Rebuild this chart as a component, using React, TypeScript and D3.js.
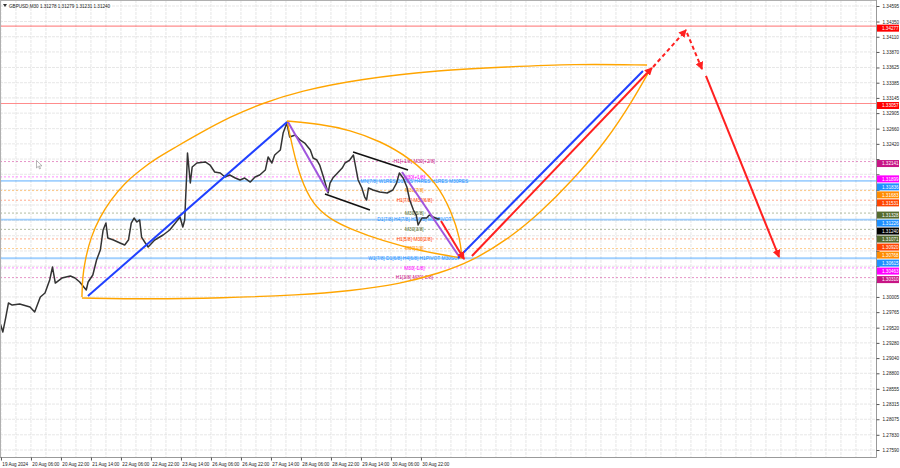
import { useEffect, useRef } from "react";
import * as d3 from "d3";

const W = 900;
const H = 468;
const PLOT_R = 876;
const PLOT_B = 457;

const chartTitle = "GBPUSD,M30  1.31278 1.31279 1.31231 1.31240";

// time axis in trading hours from the left edge (weekend is skipped, as MT4 does)
const timeTickLabels = [
  "19 Aug 2024", "20 Aug 06:00", "20 Aug 22:00", "21 Aug 14:00", "22 Aug 06:00",
  "22 Aug 22:00", "23 Aug 14:00", "26 Aug 06:00", "26 Aug 22:00", "27 Aug 14:00",
  "28 Aug 06:00", "28 Aug 22:00", "29 Aug 14:00", "30 Aug 06:00", "30 Aug 22:00"
];
const timeTickHours = [0.5, 16.5, 32.5, 48.5, 64.5, 80.5, 96.5, 112.5, 128.5, 144.5, 160.5, 176.5, 192.5, 208.5, 224.5];

const priceTicks = [
  1.34595, 1.34350, 1.34110, 1.33870, 1.33625, 1.33385, 1.33145, 1.32905, 1.32660, 1.32420,
  1.32180, 1.31940, 1.31695, 1.31455, 1.31215, 1.30970, 1.30730, 1.30490, 1.30245, 1.30005,
  1.29765, 1.29520, 1.29280, 1.29040, 1.28800, 1.28555, 1.28315, 1.28075, 1.27830, 1.27590
];

// GBPUSD M30 price path
const barHours = [
  0, 1.5, 3, 4.5, 6.5, 10.5, 16, 18.5, 21.5, 24, 26.5, 28, 29.5, 33, 37.5, 40, 42.5, 46, 47, 49.5,
  51.5, 53.5, 55, 56.5, 57.5, 60.5, 64, 66.5, 68.5, 70, 71.5, 73, 74.5, 75.5, 77.5, 79, 82.5, 87, 90.5, 93.5,
  96, 97.5, 98.5, 99.5, 100, 101.5, 102.5, 105, 109.5, 112, 114.5, 117.5, 120, 122.5, 125.5, 128, 130.5, 133.5, 136, 138.5,
  141.5, 143, 145, 146.5, 149.5, 151, 153, 154.5, 157.5, 160, 162.5, 165.5, 167, 169, 170.5, 172.5, 174.5, 175, 176, 177.5,
  180.5, 182.5, 184, 186.5, 188.5, 190, 191, 193, 194.5, 195.5, 196.5, 199, 202.5, 206.5, 209.5, 211.5, 213, 215, 217, 218.5,
  220.5, 222, 223, 225, 227.5, 229, 231, 233.5, 234.5
];
const barPrices = [
  1.29600, 1.29451, 1.29672, 1.29909, 1.29877, 1.29893, 1.29846, 1.29767, 1.30004, 1.30067, 1.30272, 1.30477, 1.30224, 1.30303, 1.30335, 1.30303, 1.30240, 1.30114, 1.30240, 1.30351,
  1.30587, 1.30745, 1.31061, 1.31171, 1.30935, 1.30903, 1.30856, 1.30824, 1.30903, 1.31171, 1.31250, 1.31187, 1.31219, 1.30950, 1.30856, 1.30792, 1.30903, 1.30982, 1.31061, 1.31171,
  1.31266, 1.31108, 1.31219, 1.31897, 1.32276, 1.31802, 1.32055, 1.32118, 1.32134, 1.32086, 1.31976, 1.31960, 1.31897, 1.31929, 1.31881, 1.31850, 1.31881, 1.31818, 1.31897, 1.31929,
  1.32007, 1.32213, 1.32118, 1.32244, 1.32323, 1.32591, 1.32749, 1.32528, 1.32560, 1.32481, 1.32433, 1.32323, 1.32197, 1.32165, 1.32086, 1.31897, 1.31692, 1.31645, 1.31802, 1.31881,
  1.31976, 1.32039, 1.32118, 1.32165, 1.32244, 1.32007, 1.31850, 1.31723, 1.31581, 1.31534, 1.31723, 1.31692, 1.31660, 1.31645, 1.31692, 1.31802, 1.31960, 1.31881, 1.31739, 1.31534,
  1.31376, 1.31297, 1.31140, 1.31250, 1.31250, 1.31297, 1.31266, 1.31234, 1.31240
];
const lastPrice = 1.31240;

// horizontal levels (Murrey math lines + two red levels)
const levelPrices = [1.34277, 1.33057, 1.32141, 1.31899, 1.31836, 1.31683, 1.31531, 1.31328, 1.31226, 1.31071, 1.30920, 1.30768, 1.30615, 1.30463, 1.30310];
const levelColors = ["#ff0000", "#ff0000", "#c71585", "#ff00ff", "#1e90ff", "#ff8c00", "#ff4500", "#556b2f", "#1e90ff", "#556b2f", "#ff4500", "#ff8c00", "#1e90ff", "#ff00ff", "#c71585"];
const levelKinds = ["red", "red", "dot", "dot", "band", "dot", "dot", "dot", "band", "dot", "dot", "dot", "band", "dot", "dot"];
const levelTexts = [
  "", "",
  "H1[+1/8] M30[+2/8]", "M30[+1/8]", "MN[7/8] W1RES D1RES H4RES H1RES M30RES", "M30[7/8]",
  "H1[7/8] M30[6/8]", "M30[5/8]", "D1[7/8] H4[7/8] H1[6/8] M30PIVOT", "M30[3/8]",
  "H1[5/8] M30[2/8]", "M30[1/8]", "W1[7/8] D1[6/8] H4[6/8] H1PIVOT M30SUP", "M30[-1/8]", "H1[3/8] M30[-2/8]"
];
const levelTextHour = 221;

// drawn objects: [hour, price] points
const blueLines = [
  [[46.9, 1.30019], [153.1, 1.32765]],
  [[244.3, 1.30619], [342.9, 1.33569]]
];
const purpleLines = [
  [[153.6, 1.32765], [174.9, 1.31660]],
  [[214.4, 1.31976], [244.3, 1.30666]]
];
const blackLines = [
  [[188.3, 1.32291], [217.6, 1.32007]],
  [[173.3, 1.31629], [197.3, 1.31376]]
];
const redArrows = [
  [[235.2, 1.31203], [247.5, 1.30603]],
  [[251.7, 1.30650], [347.7, 1.33617]],
  [[376.5, 1.33491], [415.5, 1.30635]]
];
const redDashedArrows = [
  [[348.3, 1.33633], [365.9, 1.34216]],
  [[366.4, 1.34169], [374.4, 1.33601]]
];
const orangeArcs = [
  [[43.7, 1.30004], [44.0, 1.30319], [45.6, 1.30619], [48.5, 1.30950], [53.0, 1.31250], [59.0, 1.31534], [66.5, 1.31802],
   [74.7, 1.32007], [83.7, 1.32197], [92.3, 1.32344], [106.7, 1.32591], [122.7, 1.32844], [138.7, 1.33049], [160, 1.33254],
   [192, 1.33443], [234.7, 1.33585], [270.4, 1.33633], [305.6, 1.33680], [345.1, 1.33664]],
  [[43.7, 1.29988], [80, 1.29972], [117.3, 1.29988], [160, 1.30035], [186.7, 1.30098], [213.3, 1.30209], [234.7, 1.30382],
   [250.7, 1.30556], [270.4, 1.30903], [288, 1.31329], [305.6, 1.31850], [323.7, 1.32481], [337.6, 1.33112], [347.2, 1.33617]],
  [[153.1, 1.32781], [170.7, 1.32733], [186.7, 1.32639], [202.7, 1.32465], [218.7, 1.32197], [233.1, 1.31802],
   [241.1, 1.31329], [245.3, 1.30935], [246.4, 1.30619]],
  [[153.1, 1.32781], [156.3, 1.32323], [160, 1.31897], [166.9, 1.31455], [176, 1.31234], [186.7, 1.31077],
   [204.3, 1.30887], [224, 1.30729], [246.4, 1.30619]]
];

export default function App() {
  const svgRef = useRef<SVGSVGElement | null>(null);

  useEffect(() => {
    if (!svgRef.current) return;
    const svg = d3.select(svgRef.current);
    svg.selectAll("*").remove();

    const font = "'Liberation Sans', Arial, sans-serif";
    const x = d3.scaleLinear().domain([0, 467.2]).range([0, PLOT_R]);
    const y = d3.scaleLinear().domain([1.2759, 1.34595]).range([450, 6]);

    svg.append("rect").attr("width", W).attr("height", H).attr("fill", "#ffffff");

    const defs = svg.append("defs");
    defs.append("clipPath").attr("id", "plotClip")
      .append("rect").attr("x", 0).attr("y", 0).attr("width", PLOT_R).attr("height", PLOT_B);
    defs.append("marker")
      .attr("id", "arrowRed")
      .attr("viewBox", "0 0 8 8")
      .attr("refX", 7)
      .attr("refY", 4)
      .attr("markerWidth", 8)
      .attr("markerHeight", 8)
      .attr("markerUnits", "userSpaceOnUse")
      .attr("orient", "auto")
      .append("path").attr("d", "M0,0 L8,4 L0,8 z").attr("fill", "#ff2020");

    const plot = svg.append("g").attr("clip-path", "url(#plotClip)");

    // grid
    plot.selectAll(".vgrid")
      .data(d3.range(0.5, 467, 8))
      .enter().append("line")
      .attr("x1", d => x(d)).attr("x2", d => x(d))
      .attr("y1", 0).attr("y2", PLOT_B)
      .attr("stroke", "#dcdcdc").attr("stroke-width", 0.7).attr("stroke-dasharray", "3,1");
    plot.selectAll(".hgrid")
      .data(priceTicks)
      .enter().append("line")
      .attr("x1", 0).attr("x2", PLOT_R)
      .attr("y1", d => y(d)).attr("y2", d => y(d))
      .attr("stroke", "#dcdcdc").attr("stroke-width", 0.7).attr("stroke-dasharray", "3,1");

    // horizontal levels
    const levels = levelPrices.map((p, i) => ({ p, color: levelColors[i], kind: levelKinds[i], text: levelTexts[i] }));
    plot.selectAll(".level")
      .data(levels)
      .enter().append("line")
      .attr("x1", 0).attr("x2", PLOT_R)
      .attr("y1", d => y(d.p)).attr("y2", d => y(d.p))
      .attr("stroke", d => d.color)
      .attr("stroke-width", d => (d.kind === "band" ? 1.8 : d.kind === "red" ? 1.2 : 1))
      .attr("stroke-opacity", d => (d.kind === "band" ? 0.42 : d.kind === "red" ? 0.45 : 0.45))
      .attr("stroke-dasharray", d => (d.kind === "dot" ? "2,2" : null));

    plot.selectAll(".levelText")
      .data(levels.filter(d => d.text))
      .enter().append("text")
      .attr("x", x(levelTextHour))
      .attr("y", d => y(d.p))
      .attr("dy", "0.35em")
      .attr("text-anchor", "middle")
      .attr("fill", d => d.color)
      .style("font-family", font)
      .style("font-size", "4.8px")
      .text(d => d.text);

    // price path
    const priceLine = d3.line<number>()
      .x((_, i) => x(barHours[i]))
      .y(d => y(d));
    plot.append("path")
      .datum(barPrices)
      .attr("d", priceLine)
      .attr("fill", "none")
      .attr("stroke", "#333333")
      .attr("stroke-width", 1.5)
      .attr("stroke-linejoin", "round");

    const segLine = d3.line<number[]>().x(d => x(d[0])).y(d => y(d[1]));
    const arcLine = d3.line<number[]>().x(d => x(d[0])).y(d => y(d[1])).curve(d3.curveBasis);

    // orange arcs
    plot.selectAll(".arc")
      .data(orangeArcs)
      .enter().append("path")
      .attr("d", d => arcLine(d as number[][]))
      .attr("fill", "none")
      .attr("stroke", "#ffa500")
      .attr("stroke-width", 1.4);

    // trend lines
    const drawSegs = (data: number[][][], color: string, width: number, dash: string | null, arrow: boolean) => {
      plot.append("g").selectAll("path")
        .data(data)
        .enter().append("path")
        .attr("d", d => segLine(d))
        .attr("fill", "none")
        .attr("stroke", color)
        .attr("stroke-width", width)
        .attr("stroke-dasharray", dash)
        .attr("marker-end", arrow ? "url(#arrowRed)" : null);
    };
    drawSegs(blackLines, "#111111", 1.6, null, false);
    drawSegs(purpleLines, "#a055dd", 2, null, false);
    drawSegs(blueLines, "#2040ff", 2, null, false);
    drawSegs(redArrows, "#ff2020", 2, null, true);
    drawSegs(redDashedArrows, "#ff2020", 2, "4,3", true);

    // mouse cursor left on the chart
    plot.append("path")
      .attr("d", "M36.5,160.5 L36.5,168 L38.3,166.3 L39.6,169 L40.6,168.5 L39.4,166 L42,165.8 Z")
      .attr("fill", "#ffffff").attr("stroke", "#888").attr("stroke-width", 0.6);

    // frame
    svg.append("line").attr("x1", PLOT_R + 0.5).attr("x2", PLOT_R + 0.5).attr("y1", 0).attr("y2", PLOT_B + 0.5)
      .attr("stroke", "#9a9a9a").attr("stroke-width", 1);
    svg.append("line").attr("x1", 0).attr("x2", PLOT_R + 0.5).attr("y1", PLOT_B + 0.5).attr("y2", PLOT_B + 0.5)
      .attr("stroke", "#9a9a9a").attr("stroke-width", 1);
    svg.append("line").attr("x1", 0).attr("x2", PLOT_R).attr("y1", 0.5).attr("y2", 0.5)
      .attr("stroke", "#b0b0b0").attr("stroke-width", 1);
    svg.append("line").attr("x1", 0.5).attr("x2", 0.5).attr("y1", 0).attr("y2", PLOT_B)
      .attr("stroke", "#b0b0b0").attr("stroke-width", 1);

    // coloured price boxes on the right axis (stacked like the terminal does; the bid box goes under its neighbour)
    const boxes = levels.map(d => ({ p: d.p, color: d.color }));
    boxes.push({ p: lastPrice, color: "#000000" });
    const boxOrder = boxes
      .map(b => ({ ...b, yy: y(b.p) + (b.color === "#000000" ? 4 : 2) }))
      .sort((a, b) => a.yy - b.yy);
    for (let i = 1; i < boxOrder.length; i++) {
      if (boxOrder[i].yy < boxOrder[i - 1].yy + 8) boxOrder[i].yy = boxOrder[i - 1].yy + 8;
    }

    // right price axis; tick labels hidden behind a box are dropped
    const freeTicks = priceTicks.filter(t => boxOrder.every(b => Math.abs(b.yy - y(t)) > 5.5));
    const yAxis = svg.append("g")
      .attr("transform", `translate(${PLOT_R + 0.5},0)`)
      .call(d3.axisRight(y).tickValues(priceTicks).tickFormat(d => (freeTicks.includes(+d) ? (+d).toFixed(5) : "")).tickSize(3).tickPadding(3));
    yAxis.select(".domain").remove();
    yAxis.selectAll("line").attr("stroke", "#555");
    yAxis.selectAll("text").attr("fill", "#222").style("font-family", font).style("font-size", "4.6px");

    // bottom time axis
    const xAxis = svg.append("g")
      .attr("transform", `translate(0,${PLOT_B + 0.5})`)
      .call(d3.axisBottom(x).tickValues(timeTickHours).tickFormat((_, i) => timeTickLabels[i]).tickSize(3).tickPadding(2));
    xAxis.select(".domain").remove();
    xAxis.selectAll("line").attr("stroke", "#555");
    xAxis.selectAll("text")
      .attr("text-anchor", "start")
      .attr("dx", "0.2em")
      .attr("fill", "#222")
      .style("font-family", font)
      .style("font-size", "4.6px");

    const boxG = svg.append("g").selectAll("g")
      .data(boxOrder)
      .enter().append("g")
      .attr("transform", d => `translate(${PLOT_R + 1},${d.yy})`);
    boxG.append("rect")
      .attr("x", 0).attr("y", -3.5).attr("width", 22).attr("height", 7)
      .attr("fill", d => d.color);
    boxG.append("text")
      .attr("x", 5).attr("y", 0).attr("dy", "0.35em")
      .attr("fill", "#ffffff")
      .style("font-family", font)
      .style("font-size", "4.6px")
      .text(d => d.p.toFixed(5));

    // header
    svg.append("path").attr("d", "M3,4 L7,4 L5,7 z").attr("fill", "#333");
    svg.append("text")
      .attr("x", 9).attr("y", 7.5)
      .attr("fill", "#222")
      .style("font-family", font)
      .style("font-size", "4.6px")
      .text(chartTitle);
  }, []);

  return (
    <svg
      ref={svgRef}
      width={W}
      height={H}
      style={{ position: "absolute", left: 0, top: 0, display: "block" }}
    />
  );
}
